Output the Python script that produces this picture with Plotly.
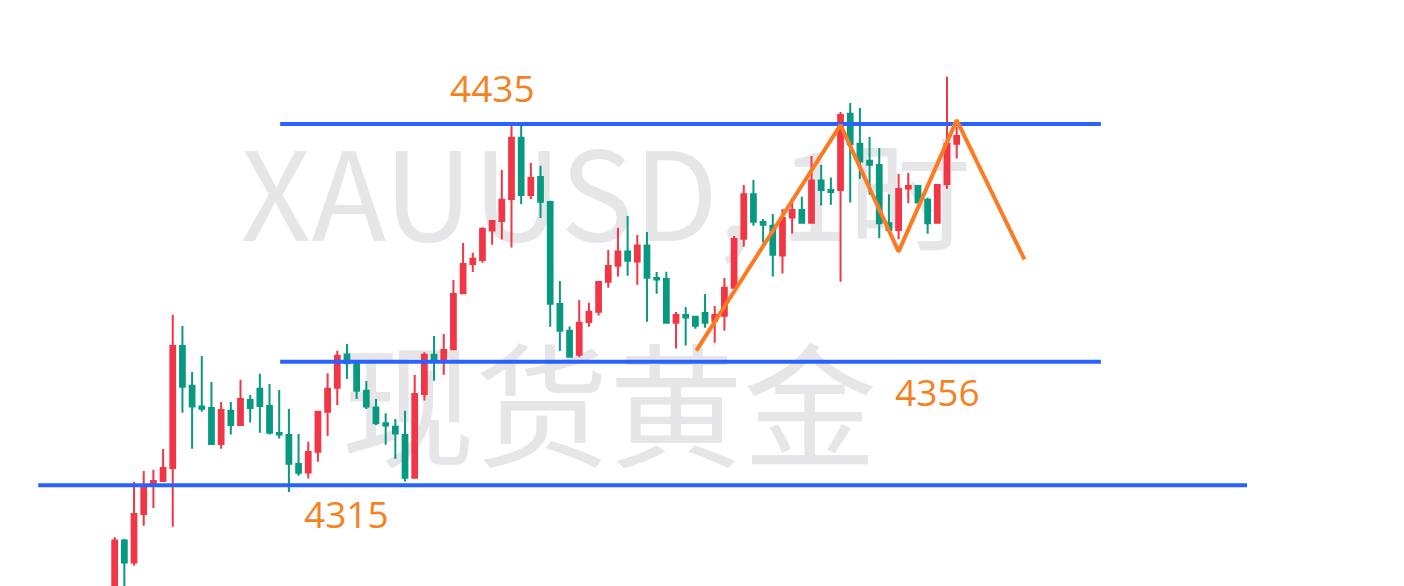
import plotly.graph_objects as go

# XAUUSD 1H candles (index, open, high, low, close)
bar_idx = list(range(1, 89))
opens = [4276.9, 4296.6, 4289.3, 4305.4, 4315.6, 4316.4, 4320.7, 4361.2, 4348.0, 4341.1,
         4340.6, 4328.7, 4339.7, 4335.0, 4343.3, 4347.0, 4341.3, 4332.3, 4331.7, 4322.0,
         4319.2, 4326.1, 4339.4, 4347.4, 4358.4, 4355.4, 4346.4, 4340.8, 4335.6, 4334.4,
         4331.7, 4317.5, 4345.3, 4358.3, 4356.9, 4360.2, 4378.8, 4388.5, 4389.8, 4399.6,
         4402.8, 4410.1, 4430.4, 4411.4, 4417.4, 4409.1, 4375.2, 4366.3, 4358.3, 4369.2,
         4372.6, 4382.6, 4387.9, 4392.6, 4389.3, 4394.6, 4383.8, 4383.5, 4369.0, 4371.5,
         4371.0, 4372.2, 4369.6, 4371.3, 4380.6, 4396.9, 4411.7, 4402.4, 4401.2, 4391.3,
         4403.9, 4406.4, 4402.2, 4416.2, 4413.1, 4413.1, 4438.4, 4428.4, 4422.8, 4421.4,
         4402.0, 4399.8, 4413.6, 4414.4, 4409.8, 4402.2, 4415.1, 4428.4]
highs = [4297.7, 4297.2, 4316.1, 4319.7, 4320.1, 4327.0, 4371.6, 4367.9, 4352.6, 4357.9,
         4349.3, 4342.6, 4342.6, 4350.0, 4345.0, 4352.0, 4348.6, 4346.6, 4340.3, 4332.0,
         4329.4, 4339.7, 4352.2, 4359.7, 4361.9, 4356.4, 4349.6, 4343.6, 4338.9, 4337.0,
         4339.7, 4351.6, 4359.2, 4364.6, 4365.2, 4383.2, 4395.5, 4392.2, 4400.7, 4403.0,
         4419.7, 4434.7, 4434.7, 4422.1, 4421.1, 4409.5, 4382.8, 4367.7, 4376.5, 4375.6,
         4382.7, 4393.1, 4400.5, 4404.4, 4398.1, 4399.1, 4385.8, 4385.9, 4372.5, 4374.2,
         4371.2, 4378.5, 4374.5, 4383.8, 4397.8, 4414.7, 4416.4, 4403.4, 4405.1, 4406.8,
         4410.5, 4410.8, 4424.4, 4421.4, 4417.2, 4439.0, 4442.0, 4440.3, 4430.8, 4427.0,
         4411.7, 4418.4, 4418.8, 4414.6, 4410.5, 4414.7, 4450.7, 4434.0]
lows = [4273.0, 4280.0, 4288.3, 4301.5, 4307.4, 4316.1, 4301.2, 4339.1, 4327.1, 4339.4,
        4328.5, 4327.1, 4331.8, 4334.8, 4335.8, 4332.4, 4331.8, 4330.5, 4312.7, 4318.1,
        4317.2, 4322.8, 4331.3, 4341.6, 4350.3, 4343.6, 4340.3, 4335.0, 4328.4, 4323.8,
        4316.2, 4317.4, 4343.1, 4349.7, 4351.7, 4359.9, 4378.5, 4385.8, 4388.9, 4394.9,
        4396.6, 4394.0, 4408.4, 4410.1, 4403.8, 4367.6, 4359.6, 4357.3, 4357.5, 4367.6,
        4371.4, 4380.6, 4384.3, 4384.6, 4381.6, 4369.3, 4378.6, 4368.9, 4360.4, 4361.4,
        4367.0, 4367.3, 4362.3, 4366.3, 4380.5, 4394.2, 4401.2, 4395.6, 4384.3, 4385.3,
        4398.6, 4402.1, 4402.1, 4407.9, 4408.2, 4382.6, 4408.9, 4416.8, 4411.5, 4397.0,
        4399.6, 4396.7, 4408.7, 4408.7, 4398.5, 4402.2, 4413.5, 4423.5]
closes = [4296.6, 4289.3, 4305.4, 4314.3, 4316.4, 4320.7, 4361.2, 4347.7, 4341.1, 4340.4,
          4328.7, 4340.0, 4335.0, 4343.6, 4340.6, 4341.3, 4332.4, 4331.8, 4322.1, 4319.1,
          4326.0, 4339.4, 4347.0, 4358.0, 4355.5, 4346.4, 4341.1, 4335.6, 4334.8, 4332.2,
          4317.5, 4345.3, 4358.3, 4356.9, 4359.9, 4378.5, 4388.5, 4390.2, 4400.1, 4402.8,
          4409.8, 4430.4, 4411.4, 4417.1, 4409.2, 4375.3, 4366.3, 4357.7, 4369.0, 4372.6,
          4382.5, 4387.8, 4392.6, 4389.6, 4394.6, 4383.9, 4383.3, 4369.0, 4371.5, 4370.7,
          4368.0, 4369.0, 4371.5, 4380.6, 4396.8, 4411.7, 4402.5, 4401.5, 4391.6, 4403.8,
          4406.4, 4402.2, 4416.2, 4413.1, 4412.4, 4438.0, 4428.3, 4422.5, 4421.5, 4402.0,
          4399.8, 4413.4, 4414.4, 4408.9, 4402.0, 4414.7, 4428.4, 4431.0]

# support / resistance levels
level_prices = [4435, 4356, 4315]
level_labels = ["4435", "4356", "4315"]

# hand-drawn M pattern (bar index, price)
pattern_idx = [61.1, 76.0, 82.0, 88.0, 95.0]
pattern_price = [4359.7, 4434.7, 4392.6, 4436.3, 4390.0]

watermark_lines = ["XAUUSD, 1时", "现货黄金"]

RED = "#f23645"
GREEN = "#089981"
BLUE = "#2962ff"
ORANGE = "#fb7a22"

fig = go.Figure()

# watermark sits on the base axes so the overlaid chart draws above it
fig.add_trace(go.Scatter(
    x=[0.4315, 0.4338], y=[0.641, 0.277],
    mode="text", text=watermark_lines,
    textfont=dict(family="Noto Sans CJK SC", size=[123, 134], color="#e6e6e9"),
    hoverinfo="skip", showlegend=False,
    xaxis="x", yaxis="y",
))

fig.add_trace(go.Candlestick(
    x=bar_idx, open=opens, high=highs, low=lows, close=closes,
    increasing=dict(line=dict(color=RED, width=2), fillcolor=RED),
    decreasing=dict(line=dict(color=GREEN, width=2), fillcolor=GREEN),
    whiskerwidth=0, showlegend=False,
    xaxis="x2", yaxis="y2",
))

level_span = [(18.1, 102.9), (18.1, 102.9), (-6.9, 118.0)]
for price, (x0, x1) in zip(level_prices, level_span):
    fig.add_trace(go.Scatter(
        x=[x0, x1], y=[price, price], mode="lines",
        line=dict(color=BLUE, width=4), hoverinfo="skip", showlegend=False,
        xaxis="x2", yaxis="y2",
    ))

fig.add_trace(go.Scatter(
    x=pattern_idx, y=pattern_price, mode="lines",
    line=dict(color=ORANGE, width=4), hoverinfo="skip", showlegend=False,
    xaxis="x2", yaxis="y2",
))

label_pos = [(40.0, 4447.0), (86.0, 4346.0), (25.0, 4305.6)]
for txt, (lx, ly) in zip(level_labels, label_pos):
    fig.add_annotation(
        x=lx, y=ly, xref="x2", yref="y2", text=txt, showarrow=False,
        font=dict(family="Open Sans", size=37, color="#f5821f"),
    )

hidden = dict(visible=False, showgrid=False, zeroline=False, fixedrange=True)
fig.update_layout(
    width=1404, height=586,
    margin=dict(l=0, r=0, t=0, b=0),
    paper_bgcolor="white", plot_bgcolor="white",
    xaxis=dict(range=[0, 1], **hidden),
    yaxis=dict(range=[0, 1], **hidden),
    xaxis2=dict(range=[-10.85, 134.22], overlaying="x", rangeslider=dict(visible=False), **hidden),
    yaxis2=dict(range=[4281.5, 4476.2], overlaying="y", **hidden),
    showlegend=False,
)

# drop the browser's default body margin so the figure fills the window
fig.write_html("out.html", config={"displayModeBar": False},
               post_script="document.body.style.margin='0';")
